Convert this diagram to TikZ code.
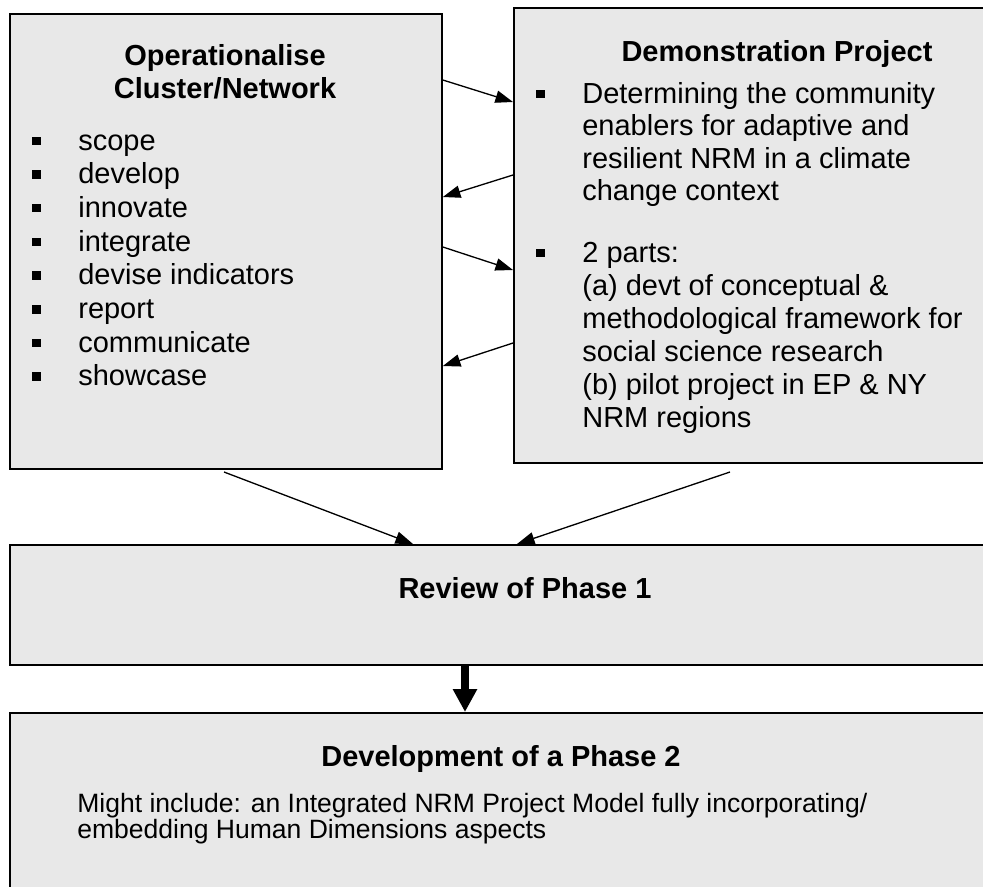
\documentclass[tikz,border=0pt]{standalone}
\usepackage{fontspec}
\setmainfont{Liberation Sans}
\usetikzlibrary{arrows.meta}
\definecolor{boxgray}{RGB}{232,232,232}

\begin{document}
\begin{tikzpicture}[x=0.02cm, y=-0.02cm,
    box/.style={draw, line width=1.1pt, fill=boxgray, rectangle, anchor=north west, inner sep=0pt},
    ttl/.style={font=\fontsize{16.5}{19}\selectfont\bfseries, anchor=base, inner sep=0pt},
    txt/.style={font=\fontsize{16.5}{19}\selectfont, anchor=base west, inner sep=0pt},
    small/.style={font=\fontsize{15.1}{17}\selectfont, anchor=base west, inner sep=0pt},
    arr/.style={line width=0.75pt, -{Triangle[length=10pt,width=7pt]}},
    fatarr/.style={line width=4.7pt, -{Triangle[length=13pt,width=13pt]}}
  ]
    \path [use as bounding box, clip] (0,0) rectangle (983,886);
    \fill [white] (0,0) rectangle (983,886);

    \node [box, minimum width=8.64cm, minimum height=9.106cm] (lbox) at (9,12.7) {};
    \node [box, minimum width=10.56cm, minimum height=9.106cm] (rbox) at (513,6.7) {};
    \node [box, minimum width=20.64cm, minimum height=2.4cm] (review) at (9,544) {};
    \node [box, minimum width=20.64cm, minimum height=4.2cm] (phase2) at (9,712) {};

    \node [ttl] (optitle) at (225,65) {Operationalise};
    \node [ttl] (optitleb) at (225,98) {Cluster/Network};
    \foreach \w [count=\i from 0] in {scope, develop, innovate, integrate, devise indicators, report, communicate, showcase} {
      \fill (32,{150+33.7*\i-13.5}) rectangle ++(9,8.5);
      \node [txt] (op\i) at (78,{150+33.7*\i}) {\w};
    }

    \node [ttl] (demotitle) at (777,61) {Demonstration Project};
    \fill (536,89.5) rectangle ++(8.5,8.5);
    \fill (536,248.5) rectangle ++(8.5,8.5);
    \foreach \y/\t [count=\i] in {103/Determining the community, 135.5/enablers for adaptive and,
        168/resilient NRM in a climate, 200.5/change context, 262/2 parts:,
        295/(a) devt of conceptual \&, 328/methodological framework for,
        361/social science research, 394/(b) pilot project in EP \& NY, 427/NRM regions}
      \node [txt] (dp\i) at (582,\y) {\t};

    \node [ttl] (revtitle) at (525,598) {Review of Phase 1};

    \node [ttl] (ptwotitle) at (501,766) {Development of a Phase 2};
    \node [small] (ptwoa) at (77,812) {Might include: an Integrated NRM Project Model fully incorporating/};
    \node [small] (ptwob) at (77,838) {embedding Human Dimensions aspects};

    \draw [arr] (lbox.east |- 0,80) -- (rbox.west |- 0,102);
    \draw [arr] (rbox.west |- 0,175) -- (lbox.east |- 0,197);
    \draw [arr] (lbox.east |- 0,247) -- (rbox.west |- 0,270);
    \draw [arr] (rbox.west |- 0,343) -- (lbox.east |- 0,366);

    \coordinate (ltail) at (224,472);
    \coordinate (rtail) at (730,472);
    \draw [arr] (ltail) -- (review.north -| 413,0);
    \draw [arr] (rtail) -- (review.north -| 517,0);
    \draw [fatarr] (review.south -| 465,0) -- (phase2.north -| 465,0);
\end{tikzpicture}
\end{document}
